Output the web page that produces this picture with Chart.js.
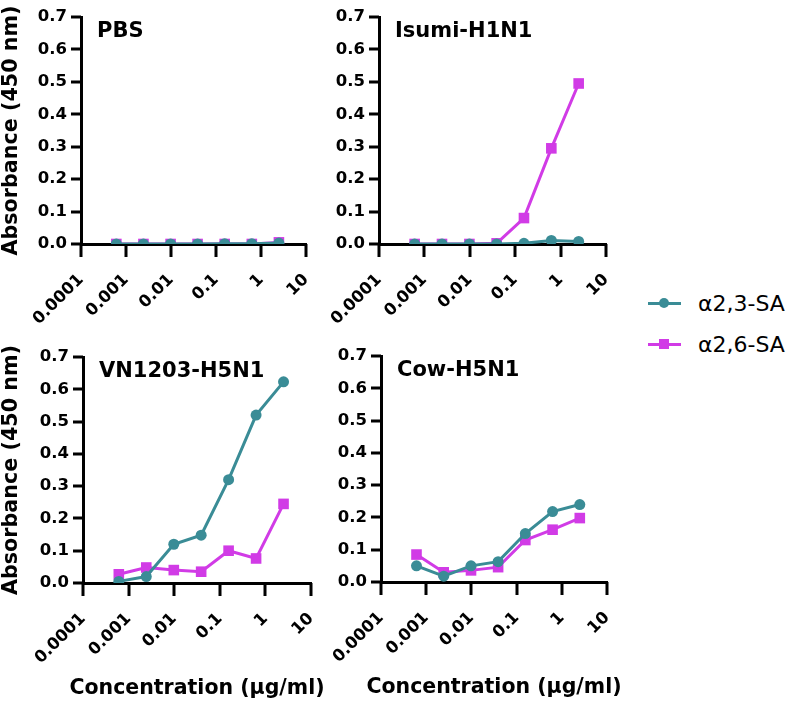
<!DOCTYPE html>
<html>
<head>
<meta charset="utf-8">
<script src="https://cdn.jsdelivr.net/npm/chart.js@4.4.0/dist/chart.umd.min.js"></script>
<style>
  body { margin: 0; background: #fff; width: 790px; height: 705px; position: relative; overflow: hidden; }
  canvas { position: absolute; }
  #legend { position: absolute; left: 648px; top: 283px; font: 22px "DejaVu Sans", sans-serif; color: #000; }
  .item { height: 41px; display: flex; align-items: center; white-space: nowrap; }
  .sw { position: relative; width: 33px; height: 3px; margin-right: 17px; }
  .sw i { position: absolute; left: 11px; top: -4px; width: 10px; height: 10px; }
  .teal { background: #3a8c96; } .teal i { background: #3a8c96; border-radius: 50%; }
  .pink { background: #d13be6; } .pink i { background: #d13be6; }
</style>
</head>
<body>
<canvas id="c0" width="320" height="335" style="left:0;top:0"></canvas>
<canvas id="c1" width="300" height="335" style="left:320px;top:0"></canvas>
<canvas id="c2" width="335" height="370" style="left:0;top:335px"></canvas>
<canvas id="c3" width="310" height="370" style="left:320px;top:335px"></canvas>
<div id="legend">
  <div class="item"><span class="sw teal"><i></i></span>α2,3-SA</div>
  <div class="item"><span class="sw pink"><i></i></span>α2,6-SA</div>
</div>
<script>
// concentrations (µg/ml), 4-fold dilutions
const concentrations = [0.00061, 0.00244, 0.0098, 0.039, 0.156, 0.625, 2.5];

const xTicks = [0.0001, 0.001, 0.01, 0.1, 1, 10];
const xTickLabels = ["0.0001", "0.001", "0.01", "0.1", "1", "10"];
const yTicks = [0, 0.1, 0.2, 0.3, 0.4, 0.5, 0.6, 0.7];

const seriesNames = ["α2,3-SA", "α2,6-SA"];
const xTitle = "Concentration (µg/ml)";
const yTitle = "Absorbance (450 nm)";

const pbs23 = [0, 0, 0, 0, 0.001, 0.001, 0.003];
const pbs26 = [0, 0, 0, 0, 0, 0, 0.005];
const isumi23 = [0, 0, 0, 0, 0.002, 0.011, 0.008];
const isumi26 = [0, 0, 0, 0.002, 0.08, 0.295, 0.495];
const vn23 = [0.005, 0.02, 0.12, 0.148, 0.32, 0.52, 0.623];
const vn26 = [0.027, 0.048, 0.04, 0.035, 0.1, 0.076, 0.245];
const cow23 = [0.05, 0.018, 0.05, 0.063, 0.15, 0.218, 0.24];
const cow26 = [0.085, 0.03, 0.036, 0.046, 0.13, 0.162, 0.198];

const TEAL = "#3a8c96";
const PINK = "#d13be6";
const FONT = "'DejaVu Sans', sans-serif";

// panel name, outward tick marks and axis titles (drawn here so they are not squeezed to the axis length)
const panelDecor = {
  id: "panelDecor",
  afterDraw(chart, args, opts) {
    const ctx = chart.ctx, a = chart.chartArea;
    const xs = chart.scales.x, ys = chart.scales.y;
    ctx.save();
    ctx.strokeStyle = "#000";
    ctx.lineWidth = 3;
    ctx.beginPath();
    xTicks.forEach(v => {
      const px = Math.round(xs.getPixelForValue(v));
      ctx.moveTo(px, a.bottom);
      ctx.lineTo(px, a.bottom + 13);
    });
    yTicks.forEach(v => {
      const py = Math.round(ys.getPixelForValue(v));
      ctx.moveTo(a.left, py);
      ctx.lineTo(a.left - 10, py);
    });
    ctx.stroke();

    ctx.fillStyle = "#000";
    ctx.font = "bold 21px " + FONT;
    ctx.fillText(opts.text, a.left + 16, a.top + 20);

    ctx.textAlign = "center";
    ctx.textBaseline = "middle";
    if (opts.xTitle) {
      ctx.font = "bold 20.5px " + FONT;
      ctx.fillText(xTitle, (a.left + a.right) / 2, a.bottom + 106);
    }
    if (opts.yTitle) {
      ctx.font = "bold 20.7px " + FONT;
      ctx.translate(12, (a.top + a.bottom) / 2);
      ctx.rotate(-Math.PI / 2);
      ctx.fillText(yTitle, 0, 0);
    }
    ctx.restore();
  }
};

function pts(ys) {
  return concentrations.map((x, i) => ({ x, y: ys[i] }));
}

function makePanel(id, title, a23, a26, g) {
  new Chart(document.getElementById(id), {
    type: "line",
    data: {
      datasets: [
        { label: seriesNames[0], data: pts(a23), borderColor: TEAL, backgroundColor: TEAL,
          borderWidth: 3, pointStyle: "circle", pointRadius: 5.5, pointBorderWidth: 0, tension: 0 },
        { label: seriesNames[1], data: pts(a26), borderColor: PINK, backgroundColor: PINK,
          borderWidth: 3, pointStyle: "rect", pointRadius: 7.5, pointBorderWidth: 0, tension: 0 }
      ]
    },
    options: {
      responsive: false,
      animation: false,
      layout: { padding: { top: g.padTop, right: g.padRight, left: 0, bottom: 0 } },
      plugins: {
        legend: { display: false }, tooltip: { enabled: false },
        panelDecor: { text: title, xTitle: g.xTitle, yTitle: g.yTitle }
      },
      scales: {
        x: {
          type: "logarithmic", min: 0.0001, max: 10,
          afterBuildTicks: s => { s.ticks = xTicks.map(v => ({ value: v })); },
          afterFit: s => { s.height = g.xH; s.paddingLeft = 0; s.paddingRight = 0; },
          ticks: { autoSkip: false, minRotation: 45, maxRotation: 45, padding: 14, color: "#000",
                   font: { family: FONT, size: 16.5, weight: "bold" },
                   callback: (v, i) => xTickLabels[i] },
          grid: { display: false, drawTicks: true, tickLength: 12 },
          border: { display: true, color: "#000", width: 3 }
        },
        y: {
          min: 0, max: 0.7,
          afterBuildTicks: s => { s.ticks = yTicks.map(v => ({ value: v })); },
          afterFit: s => { s.width = g.yW; s.paddingTop = 0; s.paddingBottom = 0; },
          ticks: { padding: 14, color: "#000", font: { family: FONT, size: 16.5, weight: "bold" },
                   callback: v => v.toFixed(1) },
          grid: { display: false, drawTicks: true, tickLength: 0 },
          border: { display: true, color: "#000", width: 3 }
        }
      }
    },
    plugins: [panelDecor]
  });
}

makePanel("c0", "PBS", pbs23, pbs26, { yW: 81, xH: 91, padTop: 17, padRight: 14, yTitle: true, xTitle: false });
makePanel("c1", "Isumi-H1N1", isumi23, isumi26, { yW: 59, xH: 91, padTop: 17, padRight: 14, yTitle: false, xTitle: false });
makePanel("c2", "VN1203-H5N1", vn23, vn26, { yW: 83, xH: 122, padTop: 22, padRight: 24, yTitle: true, xTitle: true });
makePanel("c3", "Cow-H5N1", cow23, cow26, { yW: 61, xH: 123, padTop: 21, padRight: 23, yTitle: false, xTitle: true });
</script>
</body>
</html>
